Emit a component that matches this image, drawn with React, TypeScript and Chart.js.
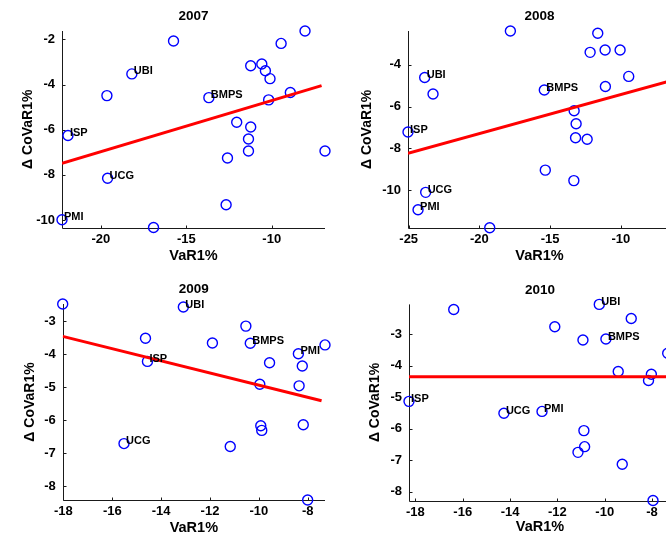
import React, { useEffect, useRef } from 'react';
import { Chart, registerables } from 'chart.js';

Chart.register(...registerables);

// ---------- data ----------
const years = ['2007', '2008', '2009', '2010'];

const var2007 = [-15.75, -8.05, -9.45, -11.23, -10.58, -10.37, -10.10, -18.19, -19.65, -13.68, -8.91, -10.18, -12.05, -11.23, -11.36, -11.36, -12.59, -6.88, -21.93, -19.61, -12.67, -22.28, -16.92];
const covar2007 = [-2.07, -1.63, -2.18, -3.17, -3.09, -3.39, -3.74, -3.53, -4.49, -4.58, -4.35, -4.68, -5.67, -5.88, -6.41, -6.94, -7.25, -6.94, -6.26, -8.15, -9.32, -9.99, -10.33];
const names2007 = ['', '', '', '', '', '', '', 'UBI', '', 'BMPS', '', '', '', '', '', '', '', '', 'ISP', 'UCG', '', 'PMI', ''];
const fitX2007 = [-22.28, -7.08];
const fitY2007 = [-7.49, -4.05];
const xLim2007 = [-22.28, -6.88];
const yLim2007 = [-10.33, -1.63];
const xTicks2007 = [-20, -15, -10];
const yTicks2007 = [-10, -8, -6, -4, -2];

const var2008 = [-17.81, -11.63, -12.17, -11.11, -10.05, -9.44, -11.09, -23.87, -23.28, -15.41, -13.30, -13.16, -13.20, -12.38, -25.05, -15.34, -13.32, -23.80, -24.34, -19.27];
const covar2008 = [-2.39, -2.50, -3.41, -3.30, -3.30, -4.56, -5.04, -4.61, -5.40, -5.21, -6.20, -6.82, -7.49, -7.56, -7.22, -9.04, -9.54, -10.10, -10.93, -11.79];
const names2008 = ['', '', '', '', '', '', '', 'UBI', '', 'BMPS', '', '', '', '', 'ISP', '', '', 'UCG', 'PMI', ''];
const fitX2008 = [-25.05, -6.45];
const fitY2008 = [-8.24, -4.77];
const xLim2008 = [-25.05, -6.45];
const yLim2008 = [-11.79, -2.39];
const xTicks2008 = [-25, -20, -15, -10];
const yTicks2008 = [-10, -8, -6, -4];

const var2009 = [-18.03, -13.09, -10.53, -14.64, -11.90, -10.35, -7.29, -8.38, -14.56, -9.56, -8.22, -9.96, -8.35, -9.92, -9.88, -8.18, -15.52, -11.17, -8.00];
const covar2009 = [-2.48, -2.57, -3.15, -3.52, -3.66, -3.67, -3.72, -3.99, -4.22, -4.26, -4.36, -4.91, -4.96, -6.17, -6.31, -6.14, -6.71, -6.80, -8.42];
const names2009 = ['', 'UBI', '', '', '', 'BMPS', '', 'PMI', 'ISP', '', '', '', '', '', '', '', 'UCG', '', ''];
const fitX2009 = [-18.03, -7.43];
const fitY2009 = [-3.46, -5.41];
const xLim2009 = [-18.03, -7.29];
const yLim2009 = [-8.42, -2.48];
const xTicks2009 = [-18, -16, -14, -12, -10, -8];
const yTicks2009 = [-8, -7, -6, -5, -4, -3];

const var2010 = [-16.38, -10.23, -8.88, -12.11, -10.92, -9.95, -7.34, -9.43, -8.03, -8.15, -18.27, -14.26, -12.65, -10.88, -10.85, -11.13, -9.26, -7.96];
const covar2010 = [-2.21, -2.05, -2.50, -2.76, -3.18, -3.15, -3.60, -4.18, -4.27, -4.47, -5.13, -5.51, -5.45, -6.06, -6.57, -6.75, -7.13, -8.28];
const names2010 = ['', 'UBI', '', '', '', 'BMPS', '', '', '', '', 'ISP', 'UCG', 'PMI', '', '', '', '', ''];
const fitX2010 = [-18.27, -7.2];
const fitY2010 = [-4.35, -4.35];
const xLim2010 = [-18.27, -7.2];
const yLim2010 = [-8.28, -2.05];
const xTicks2010 = [-18, -16, -14, -12, -10, -8];
const yTicks2010 = [-8, -7, -6, -5, -4, -3];

const xLabel = 'VaR1%';
const yLabel = 'Δ CoVaR1%';

// ---------- layout ----------
const FONT = '"Liberation Sans", Arial, Helvetica, sans-serif';

type PanelDef = {
  title: string;
  xs: number[]; ys: number[]; names: string[];
  fitX: number[]; fitY: number[];
  xLim: number[]; yLim: number[];
  xTicks: number[]; yTicks: number[];
  left: number; top: number; width: number; height: number;
  yAxisW: number; xAxisH: number; padTop: number; padRight: number;
  yTitlePad: number; xTitlePad: number;
};

const panels: PanelDef[] = [
  { title: years[0], xs: var2007, ys: covar2007, names: names2007, fitX: fitX2007, fitY: fitY2007, xLim: xLim2007, yLim: yLim2007, xTicks: xTicks2007, yTicks: yTicks2007,
    left: 0, top: 0, width: 333, height: 267, yAxisW: 62, xAxisH: 39.5, padTop: 31, padRight: 8, yTitlePad: 19.5, xTitlePad: 2.3 },
  { title: years[1], xs: var2008, ys: covar2008, names: names2008, fitX: fitX2008, fitY: fitY2008, xLim: xLim2008, yLim: yLim2008, xTicks: xTicks2008, yTicks: yTicks2008,
    left: 333, top: 0, width: 345, height: 267, yAxisW: 75, xAxisH: 39.3, padTop: 31, padRight: 7, yTitlePad: 25.3, xTitlePad: 2.3 },
  { title: years[2], xs: var2009, ys: covar2009, names: names2009, fitX: fitX2009, fitY: fitY2009, xLim: xLim2009, yLim: yLim2009, xTicks: xTicks2009, yTicks: yTicks2009,
    left: 0, top: 267, width: 333, height: 275, yAxisW: 62.7, xAxisH: 42, padTop: 37, padRight: 8, yTitlePad: 21.3, xTitlePad: 5.3 },
  { title: years[3], xs: var2010, ys: covar2010, names: names2010, fitX: fitX2010, fitY: fitY2010, xLim: xLim2010, yLim: yLim2010, xTicks: xTicks2010, yTicks: yTicks2010,
    left: 333, top: 267, width: 345, height: 275, yAxisW: 76, xAxisH: 41.5, padTop: 37.4, padRight: 7, yTitlePad: 33.3, xTitlePad: 6 },
];

function Panel({ p }: { p: PanelDef }) {
  const ref = useRef<HTMLCanvasElement | null>(null);
  useEffect(() => {
    if (!ref.current) return;
    const decor = {
      id: 'decor',
      beforeDatasetsDraw(chart: any) {
        const { ctx, chartArea: a, scales } = chart;
        ctx.save();
        ctx.strokeStyle = '#1a1a1a';
        ctx.lineWidth = 1;
        ctx.beginPath();
        const L = Math.round(a.left) + 0.5;
        const B = Math.round(a.bottom) + 0.5;
        ctx.moveTo(L, a.top);
        ctx.lineTo(L, B);
        ctx.lineTo(a.right, B);
        for (const v of p.xTicks) {
          const x = Math.round(scales.x.getPixelForValue(v)) + 0.5;
          ctx.moveTo(x, B);
          ctx.lineTo(x, B - 3);
        }
        for (const v of p.yTicks) {
          const y = Math.round(scales.y.getPixelForValue(v)) + 0.5;
          ctx.moveTo(L, y);
          ctx.lineTo(L + 3, y);
        }
        ctx.stroke();
        ctx.restore();
      },
      afterDraw(chart: any) {
        const { ctx, chartArea: a, scales } = chart;
        ctx.save();
        ctx.fillStyle = '#000';
        ctx.font = `bold 13.5px ${FONT}`;
        ctx.textAlign = 'center';
        ctx.textBaseline = 'middle';
        ctx.fillText(p.title, (a.left + a.right) / 2, a.top - 14.5);
        ctx.font = `bold 11px ${FONT}`;
        ctx.textAlign = 'left';
        p.names.forEach((n, i) => {
          if (!n) return;
          const x = scales.x.getPixelForValue(p.xs[i]);
          const y = scales.y.getPixelForValue(p.ys[i]);
          ctx.fillText(n, x + 2, y - 2.5);
        });
        ctx.restore();
      },
    };
    const tickFont = { family: FONT, size: 13, weight: 'bold' as const };
    const chart = new Chart(ref.current, {
      type: 'scatter',
      data: {
        datasets: [
          {
            data: p.fitX.map((x, i) => ({ x, y: p.fitY[i] })),
            showLine: true,
            borderColor: '#ff0000',
            borderWidth: 3,
            pointRadius: 0,
            order: 0,
          } as any,
          {
            data: p.xs.map((x, i) => ({ x, y: p.ys[i] })),
            pointRadius: 5,
            pointBorderWidth: 1.4,
            pointBorderColor: '#0000ff',
            pointBackgroundColor: 'rgba(0,0,0,0)',
            borderColor: '#0000ff',
            backgroundColor: 'rgba(0,0,0,0)',
            clip: false,
            order: 1,
          } as any,
        ],
      },
      options: {
        animation: false,
        responsive: false,
        events: [],
        layout: { padding: { top: p.padTop, right: p.padRight, left: 0, bottom: 0 } },
        plugins: { legend: { display: false }, tooltip: { enabled: false }, title: { display: false } },
        scales: {
          x: {
            type: 'linear',
            min: p.xLim[0],
            max: p.xLim[1],
            afterBuildTicks: (s: any) => { s.ticks = p.xTicks.map((v) => ({ value: v })); },
            afterFit: (s: any) => { s.height = p.xAxisH; },
            grid: { display: false, drawTicks: false },
            border: { display: false },
            ticks: { color: '#000', font: tickFont, padding: 4, maxRotation: 0, autoSkip: false, callback: (v: any) => String(v) },
            title: { display: true, text: xLabel, color: '#000', font: { family: FONT, size: 14.5, weight: 'bold' }, padding: { top: 0, bottom: p.xTitlePad } },
          },
          y: {
            type: 'linear',
            min: p.yLim[0],
            max: p.yLim[1],
            afterBuildTicks: (s: any) => { s.ticks = p.yTicks.map((v) => ({ value: v })); },
            afterFit: (s: any) => { s.width = p.yAxisW; },
            grid: { display: false, drawTicks: false },
            border: { display: false },
            ticks: { color: '#000', font: tickFont, padding: 7, autoSkip: false, callback: (v: any) => String(v) },
            title: { display: true, text: yLabel, color: '#000', font: { family: FONT, size: 14, weight: 'bold' }, padding: { top: p.yTitlePad, bottom: 0 } },
          },
        },
      } as any,
      plugins: [decor],
    });
    return () => chart.destroy();
  }, [p]);
  return (
    <div style={{ position: 'absolute', left: p.left, top: p.top, width: p.width, height: p.height }}>
      <canvas ref={ref} width={p.width} height={p.height} style={{ width: p.width, height: p.height, display: 'block' }} />
    </div>
  );
}

export default function App() {
  return (
    <div style={{ position: 'absolute', left: 0, top: 0, width: 666, height: 534, overflow: 'hidden', background: '#fff' }}>
      {panels.map((p) => (
        <Panel key={p.title} p={p} />
      ))}
    </div>
  );
}
